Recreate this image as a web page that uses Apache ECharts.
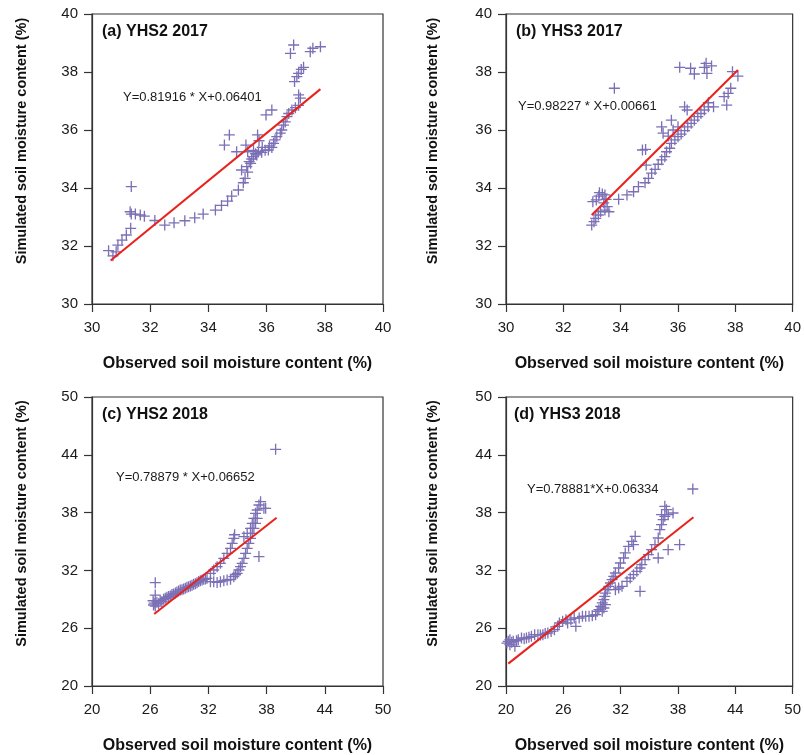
<!DOCTYPE html>
<html>
<head>
<meta charset="utf-8">
<script src="https://cdn.jsdelivr.net/npm/echarts@6/dist/echarts.min.js"></script>
<style>
html,body{margin:0;padding:0;background:#fff;}
#chart{width:804px;height:755px;}
</style>
</head>
<body>
<div id="chart"></div>
<script>
// ---- Data (observed %, simulated %) ----
const panelTitles = ['(a) YHS2 2017', '(b) YHS3 2017', '(c) YHS2 2018', '(d) YHS3 2018'];
const equations = ['Y=0.81916 * X+0.06401', 'Y=0.98227 * X+0.00661', 'Y=0.78879 * X+0.06652', 'Y=0.78881*X+0.06334'];
const xAxisTitle = 'Observed soil moisture content (%)';
const yAxisTitle = 'Simulated soil moisture content (%)';
const ticks2017 = [30, 32, 34, 36, 38, 40];
const ticks2018 = [20, 26, 32, 38, 44, 50];

const pointsA = [
 [30.57,31.84],[30.72,31.66],[30.83,31.80],[30.89,32.03],[31.03,32.20],[31.18,32.38],[31.33,32.61],[31.31,33.18],
 [31.35,33.10],[31.35,34.05],[31.49,33.10],[31.66,33.07],[31.80,33.03],[32.16,32.88],[32.50,32.72],[32.82,32.80],
 [33.19,32.87],[33.53,32.97],[33.82,33.10],[34.24,33.24],[34.45,33.40],[34.66,33.55],[34.80,33.72],[35.03,33.93],
 [35.20,34.18],[35.26,34.33],[35.14,34.62],[35.32,34.74],[35.40,34.91],[35.49,35.00],[35.55,35.08],[35.62,35.18],
 [35.72,35.25],[35.83,35.23],[35.95,35.30],[36.06,35.31],[36.18,35.40],[36.24,35.54],[36.29,35.66],[36.35,35.77],
 [36.47,35.89],[36.52,36.00],[36.58,36.17],[36.64,36.28],[36.70,36.46],[36.76,36.57],[36.87,36.69],[36.99,36.77],
 [37.10,36.85],[37.16,37.10],[35.35,34.55],[35.45,34.85],[35.66,35.14],[35.85,35.40],[36.10,35.45],[35.55,35.30],
 [34.55,35.48],[34.72,35.83],[34.97,35.25],[35.29,35.48],[35.35,35.25],[35.69,35.83],[35.74,35.63],[35.98,36.52],
 [36.18,36.69],[37.10,37.21],[36.96,37.67],[37.04,37.84],[37.10,37.95],[37.19,38.09],[37.27,38.16],[36.82,38.64],
 [36.93,38.93],[37.50,38.70],[37.59,38.82],[37.85,38.87]
];
const pointsB = [
 [32.99,32.72],[33.07,32.84],[33.13,32.95],[33.22,33.07],[33.30,33.18],[33.03,33.53],[33.15,33.59],[33.24,33.72],
 [33.26,33.84],[33.36,33.79],[33.45,33.76],[33.49,33.61],[33.41,33.49],[33.53,33.36],[33.45,33.24],[33.59,33.18],
 [33.93,33.61],[34.22,33.76],[34.45,33.87],[34.62,34.05],[34.85,34.18],[34.97,34.33],[35.08,34.51],[35.20,34.64],
 [35.31,34.82],[35.43,34.97],[35.54,35.08],[35.60,35.25],[35.71,35.37],[35.77,35.54],[35.89,35.66],[36.00,35.77],
 [36.11,35.86],[36.23,35.98],[36.34,36.11],[36.46,36.23],[36.57,36.34],[36.69,36.46],[36.80,36.57],[36.92,36.69],
 [37.06,36.80],[37.24,36.80],[37.70,36.86],[37.61,37.15],[37.75,37.26],[37.84,37.44],[37.90,38.01],[38.09,37.86],
 [33.78,37.44],[34.76,35.31],[34.87,35.33],[34.89,34.79],[35.43,36.11],[35.48,35.89],[35.66,35.79],[35.83,36.00],
 [35.77,36.34],[36.00,36.11],[36.32,36.69],[36.23,36.80],[37.06,36.94],[36.06,38.16],[36.44,38.13],[36.57,37.93],
 [36.92,38.16],[37.01,37.95],[37.17,38.21],[36.98,38.30]
];
const pointsC = [
 [26.34,28.41],[26.40,28.60],[26.52,28.30],[26.69,28.70],[26.86,28.55],[27.03,28.86],[27.20,28.75],[27.38,29.00],
 [27.55,29.10],[27.72,29.20],[27.90,29.30],[28.07,29.34],[28.24,29.50],[28.41,29.55],[28.60,29.65],[28.76,29.76],
 [28.93,29.85],[29.10,29.97],[29.28,30.00],[29.45,30.07],[29.62,30.15],[29.79,30.24],[29.96,30.30],[30.14,30.38],
 [30.31,30.45],[30.48,30.55],[30.66,30.62],[30.83,30.73],[31.00,30.85],[31.17,30.93],[31.35,31.00],[31.52,31.07],
 [31.70,31.10],[31.86,31.18],[26.52,30.73],[26.52,29.44],[26.30,28.85],
 [32.21,30.83],[32.55,30.83],[32.90,30.75],[33.24,30.83],[33.59,30.93],[33.93,31.00],[34.28,31.07],[34.62,31.35],
 [34.79,31.55],[34.97,31.70],[35.14,32.04],[35.31,32.39],[35.48,32.73],[35.66,33.25],[35.83,33.77],[36.00,34.29],
 [36.17,34.81],[36.34,35.33],[36.52,35.85],[36.69,36.37],[36.86,36.89],[37.03,37.40],[37.03,38.27],[37.21,38.79],
 [37.38,39.13],[37.72,38.44],[37.90,38.44],
 [32.21,31.70],[32.55,32.04],[32.90,32.39],[33.24,32.73],[33.59,33.25],[33.93,33.77],[34.28,34.29],[34.45,34.81],
 [34.62,35.33],[34.70,35.70],[35.66,35.50],[36.00,35.85],[36.34,36.37],[36.52,36.89],[36.69,37.40],[36.86,37.92],
 [37.21,33.43],[38.93,44.57]
];
const pointsD = [
 [20.10,24.46],[20.24,24.64],[20.41,24.29],[20.41,24.81],[20.60,24.55],[20.76,24.64],[20.93,24.12],[21.10,24.70],
 [21.28,24.81],[21.62,24.98],[21.90,24.90],[22.14,24.98],[22.40,25.05],[22.66,25.16],[23.00,25.33],[23.34,25.33],
 [23.60,25.30],[23.86,25.33],[24.10,25.45],[24.38,25.50],[24.72,25.67],[25.07,25.85],[25.41,26.19],[25.59,26.54],
 [25.93,26.71],[26.28,26.89],[26.45,26.54],[26.79,26.89],[27.14,27.06],[27.31,26.19],[27.66,27.06],[28.00,27.23],
 [28.34,27.23],[28.69,27.23],[29.03,27.30],[29.38,27.40],[29.55,27.75],[29.72,27.92],[29.90,28.27],[30.07,28.62],
 [30.24,28.96],[30.34,29.31],[30.41,29.65],[30.59,30.00],[30.76,30.35],[30.93,30.69],[31.10,31.04],[31.28,31.38],
 [30.07,27.75],[30.24,28.10],[30.41,28.45],
 [31.45,31.73],[31.79,32.25],[31.97,32.77],[32.31,33.29],[32.48,33.81],[32.83,34.50],[33.17,35.02],[33.52,35.54],
 [33.34,34.67],
 [31.45,30.00],[31.79,30.17],[32.14,30.35],[32.66,30.87],[33.00,31.21],[33.34,31.56],[33.69,31.90],[34.03,32.25],
 [34.21,32.60],[34.55,33.11],[34.90,33.63],[35.24,34.15],[35.59,34.67],[35.93,35.36],[36.10,36.23],[36.28,36.75],
 [36.45,37.27],[36.62,37.61],[36.79,38.30],[36.62,38.65],[36.28,37.79],[36.97,37.79],[37.48,37.96],
 [34.03,29.83],[35.93,33.29],[36.97,34.15],[38.17,34.67],[39.55,40.45]
];
// regression line end points
const lineA = [[30.64,31.50],[37.85,37.41]];
const lineB = [[32.99,33.07],[38.09,38.07]];
const lineC = [[26.41,27.47],[39.03,37.47]];
const lineD = [[20.24,22.32],[39.62,37.51]];

const allPoints = [pointsA, pointsB, pointsC, pointsD];
const allLines = [lineA, lineB, lineC, lineD];
const allTicks = [ticks2017, ticks2017, ticks2018, ticks2018];

// ---- Layout / style ----
const FONT = "'Liberation Sans', Arial, Helvetica, sans-serif";
const AXIS_COLOR = '#333';
const MARK_COLOR = '#7B70B6';
const LINE_COLOR = '#E8221C';
const gridBoxes = [
 {left: 92, top: 14, width: 291, height: 290},
 {left: 506, top: 14, width: 290, height: 290},
 {left: 92, top: 397, width: 291, height: 289},
 {left: 506, top: 397, width: 290, height: 289}
];
const yNameGaps = [63, 66, 63, 66];
const titlePos = [[102, 32], [516, 32], [102, 415], [514, 415]];
const eqPos = [[123, 97], [518, 106], [116, 477], [527, 489]];
const plusPath = 'path://M0,4.4H10V5.6H0Z M4.4,0H5.6V10H4.4Z';

function axisCommon(ticks) {
  return {
    type: 'value',
    min: ticks[0],
    max: ticks[ticks.length - 1],
    interval: ticks[1] - ticks[0],
    axisLine: {show: true, lineStyle: {color: AXIS_COLOR, width: 1.2}},
    axisTick: {show: true, inside: false, length: 8, lineStyle: {color: AXIS_COLOR, width: 1.2}},
    splitLine: {show: false},
    nameLocation: 'middle',
    nameTextStyle: {fontFamily: FONT, fontWeight: 'bold', fontSize: 16, color: '#111'}
  };
}

const grid = gridBoxes.map(b => Object.assign({show: true, borderColor: AXIS_COLOR, borderWidth: 1.2, backgroundColor: '#fff'}, b));
const xAxis = allTicks.map((t, i) => Object.assign(axisCommon(t), {
  gridIndex: i,
  name: xAxisTitle,
  nameGap: 52,
  axisLabel: {fontFamily: FONT, fontSize: 15, color: '#1a1a1a', margin: 16}
}));
const yAxis = allTicks.map((t, i) => {
  const a = Object.assign(axisCommon(t), {
    gridIndex: i,
    name: yAxisTitle,
    nameGap: yNameGaps[i],
    nameRotate: 90,
    axisLabel: {fontFamily: FONT, fontSize: 15, color: '#1a1a1a', margin: 14}
  });
  a.nameTextStyle = Object.assign({}, a.nameTextStyle, {fontSize: 14.5, padding: [0, 0, 0, 36]});
  return a;
});

const series = [];
allPoints.forEach((pts, i) => {
  series.push({
    type: 'scatter', xAxisIndex: i, yAxisIndex: i, data: pts,
    symbol: plusPath, symbolSize: 11,
    itemStyle: {color: MARK_COLOR, opacity: 1},
    silent: true, z: 2
  });
  series.push({
    type: 'line', xAxisIndex: i, yAxisIndex: i, data: allLines[i],
    showSymbol: false, symbol: 'none',
    lineStyle: {color: LINE_COLOR, width: 2},
    silent: true, z: 3, animation: false
  });
});

const graphic = [];
panelTitles.forEach((t, i) => {
  graphic.push({
    type: 'text', x: titlePos[i][0], y: titlePos[i][1], z: 10,
    style: {text: t, font: 'bold 16px ' + FONT, fill: '#111', textVerticalAlign: 'middle', verticalAlign: 'middle'}
  });
  graphic.push({
    type: 'text', x: eqPos[i][0], y: eqPos[i][1], z: 10,
    style: {text: equations[i], font: '13px ' + FONT, fill: '#1a1a1a', textVerticalAlign: 'middle', verticalAlign: 'middle'}
  });
});

const chart = echarts.init(document.getElementById('chart'), null, {renderer: 'canvas'});
chart.setOption({
  animation: false,
  backgroundColor: '#fff',
  grid, xAxis, yAxis, series, graphic
});
</script>
</body>
</html>
